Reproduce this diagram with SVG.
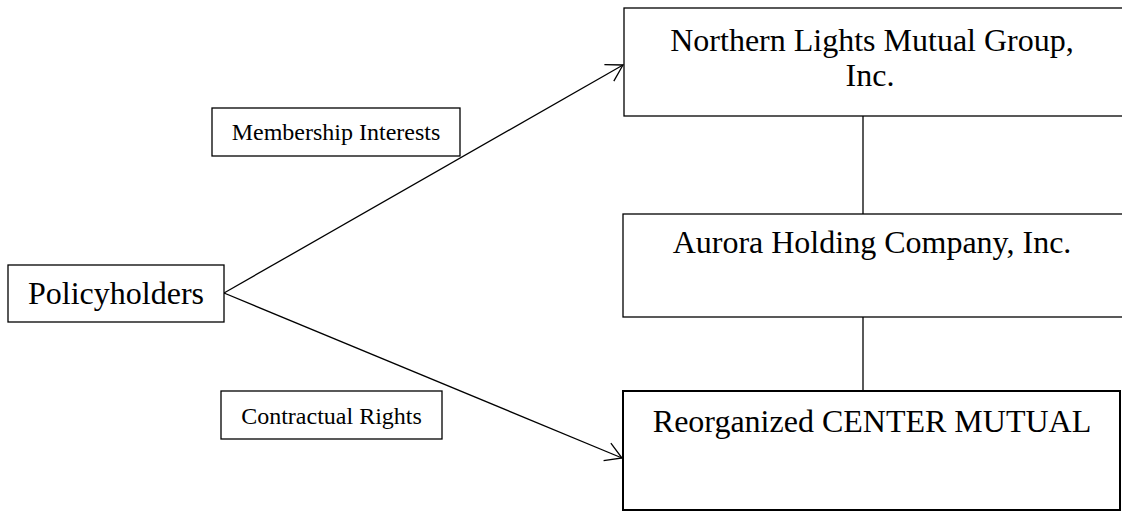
<svg xmlns="http://www.w3.org/2000/svg" width="1122" height="512" viewBox="0 0 1122 512">
<style>
.box{fill:#fff;stroke:#000;stroke-width:1.3}
.thick{stroke-width:2}
.t{font-family:"Liberation Serif","Times New Roman",serif;fill:#000;text-anchor:middle}
.big{font-size:32px}
.small{font-size:24px}
.conn{stroke:#000;stroke-width:1.3;fill:none}
</style>
<defs>
<marker id="arr" markerUnits="userSpaceOnUse" markerWidth="24" markerHeight="24" viewBox="-20 -12 24 24" refX="0" refY="0" orient="auto">
<path d="M-16,-9.5 L0,0 L-16,9.5" fill="none" stroke="#000" stroke-width="1.3"/>
</marker>
</defs>
<rect width="1122" height="512" fill="#fff"/>
<g id="connectors">
<line class="conn" x1="224" y1="293" x2="623" y2="65" marker-end="url(#arr)"/>
<line class="conn" x1="224" y1="293" x2="622" y2="458" marker-end="url(#arr)"/>
<line class="conn" x1="863" y1="116" x2="863" y2="214"/>
<line class="conn" x1="863" y1="317" x2="863" y2="391"/>
</g>
<g id="policyholders">
<rect class="box" x="8" y="265" width="216" height="57"/>
<text class="t big" x="116" y="304">Policyholders</text>
</g>
<g id="northern">
<rect class="box" x="624" y="8" width="510" height="108"/>
<text class="t big" x="872" y="51">Northern Lights Mutual Group,</text>
<text class="t big" x="870" y="86">Inc.</text>
</g>
<g id="aurora">
<rect class="box" x="623" y="214" width="511" height="103"/>
<text class="t big" x="872" y="253">Aurora Holding Company, Inc.</text>
</g>
<g id="reorganized">
<rect class="box thick" x="623" y="391" width="497" height="119"/>
<text class="t big" x="872" y="432">Reorganized CENTER MUTUAL</text>
</g>
<g id="label-membership">
<rect class="box" x="212" y="108" width="248" height="48"/>
<text class="t small" x="336" y="140">Membership Interests</text>
</g>
<g id="label-contractual">
<rect class="box" x="221" y="391" width="221" height="48"/>
<text class="t small" x="331.5" y="424">Contractual Rights</text>
</g>
</svg>
